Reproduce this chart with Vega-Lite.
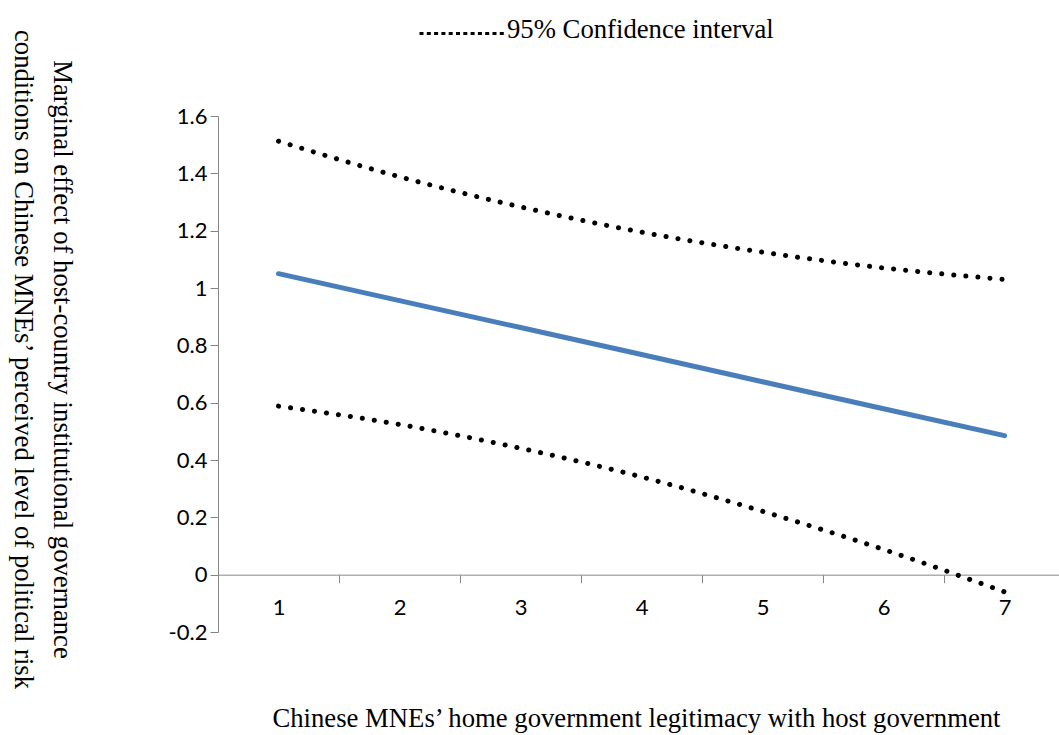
{
  "$schema": "https://vega.github.io/schema/vega-lite/v6.json",
  "width": 841,
  "height": 516,
  "autosize": {"type": "none"},
  "padding": {"left": 218, "top": 116, "right": 0, "bottom": 103},
  "background": "white",
  "config": {"view": {"stroke": null}},
  "data": {
    "values": [
      {"level": 1, "value": 1.05, "line": "estimate"},
      {"level": 2, "value": 0.956, "line": "estimate"},
      {"level": 3, "value": 0.862, "line": "estimate"},
      {"level": 4, "value": 0.768, "line": "estimate"},
      {"level": 5, "value": 0.673, "line": "estimate"},
      {"level": 6, "value": 0.579, "line": "estimate"},
      {"level": 7, "value": 0.485, "line": "estimate"},
      {"level": 1, "value": 1.512, "line": "upper"},
      {"level": 2, "value": 1.388, "line": "upper"},
      {"level": 3, "value": 1.283, "line": "upper"},
      {"level": 4, "value": 1.195, "line": "upper"},
      {"level": 5, "value": 1.125, "line": "upper"},
      {"level": 6, "value": 1.07, "line": "upper"},
      {"level": 7, "value": 1.03, "line": "upper"},
      {"level": 1, "value": 0.588, "line": "lower"},
      {"level": 2, "value": 0.524, "line": "lower"},
      {"level": 3, "value": 0.441, "line": "lower"},
      {"level": 4, "value": 0.341, "line": "lower"},
      {"level": 5, "value": 0.221, "line": "lower"},
      {"level": 6, "value": 0.088, "line": "lower"},
      {"level": 7, "value": -0.06, "line": "lower"}
    ]
  },
  "encoding": {
    "x": {
      "field": "level",
      "type": "quantitative",
      "scale": {"domain": [0.5, 7.45], "nice": false, "zero": false},
      "axis": {
        "title": "Chinese MNEs’ home government legitimacy with host government",
        "values": [1, 1.5, 2, 2.5, 3, 3.5, 4, 4.5, 5, 5.5, 6, 6.5, 7],
        "labelExpr": "datum.value % 1 === 0 ? format(datum.value, 'd') : ''",
        "offset": -57.33,
        "grid": false,
        "domainColor": "#868686",
        "domainWidth": 1,
        "tickColor": "#868686",
        "tickSize": 8,
        "tickWidth": 1,
        "tickOpacity": {"condition": {"test": "datum.value % 1 !== 0", "value": 1}, "value": 0},
        "labelFont": "Lato",
        "labelFontSize": 22,
        "labelColor": "#000000",
        "labelPadding": 15,
        "labelOverlap": false,
        "labelBound": false,
        "labelFlush": false,
        "titleFont": "Liberation Serif",
        "titleFontSize": 26.7,
        "titleFontWeight": "normal",
        "titleColor": "#000000",
        "titleBaseline": "alphabetic",
        "titleX": 418,
        "titleY": 152
      }
    },
    "y": {
      "field": "value",
      "type": "quantitative",
      "scale": {"domain": [-0.2, 1.6], "nice": false, "zero": false},
      "axis": {
        "title": ["Marginal effect of host-country institutional governance", "conditions on Chinese MNEs’  perceived level of political risk"],
        "values": [-0.2, 0, 0.2, 0.4, 0.6, 0.8, 1, 1.2, 1.4, 1.6],
        "labelExpr": "(datum.value < 0 ? '-' : '') + format(abs(datum.value), '~g')",
        "grid": false,
        "domainColor": "#868686",
        "domainWidth": 1,
        "tickColor": "#868686",
        "tickSize": 8,
        "tickWidth": 1,
        "labelFont": "Lato",
        "labelFontSize": 22,
        "labelColor": "#000000",
        "labelPadding": 3,
        "labelOverlap": false,
        "labelBound": false,
        "labelFlush": false,
        "titleFont": "Liberation Serif",
        "titleFontSize": 26.7,
        "titleFontWeight": "normal",
        "titleColor": "#000000",
        "titleAngle": 90,
        "titleAlign": "center",
        "titleBaseline": "middle",
        "titleLineHeight": 39,
        "titleX": -157,
        "titleY": 243
      }
    }
  },
  "layer": [
    {
      "transform": [{"filter": "datum.line === 'estimate'"}],
      "mark": {"type": "line", "color": "#4A7EBB", "strokeWidth": 5, "strokeCap": "round"}
    },
    {
      "transform": [{"filter": "datum.line !== 'estimate'"}],
      "mark": {"type": "line", "strokeWidth": 5, "strokeCap": "round", "strokeDash": [0.1, 12], "interpolate": "monotone"},
      "encoding": {
        "detail": {"field": "line"},
        "color": {
          "datum": "95% Confidence interval",
          "scale": {"range": ["#000000"]},
          "legend": {
            "title": null,
            "orient": "none",
            "legendX": 200,
            "legendY": -127,
            "padding": 0,
            "symbolType": "stroke",
            "symbolSize": 7396,
            "labelFont": "Liberation Serif",
            "labelFontSize": 26.7,
            "labelColor": "#000000",
            "labelOffset": 0,
            "labelLimit": 0,
            "labelBaseline": "alphabetic",
            "encode": {
              "symbols": {"update": {"strokeDash": {"value": [4, 3.3]}, "strokeWidth": {"value": 3}, "stroke": {"value": "#000000"}, "strokeCap": {"value": "butt"}}},
              "labels": {"update": {"dy": {"value": 4}}}
            }
          }
        }
      }
    }
  ]
}
